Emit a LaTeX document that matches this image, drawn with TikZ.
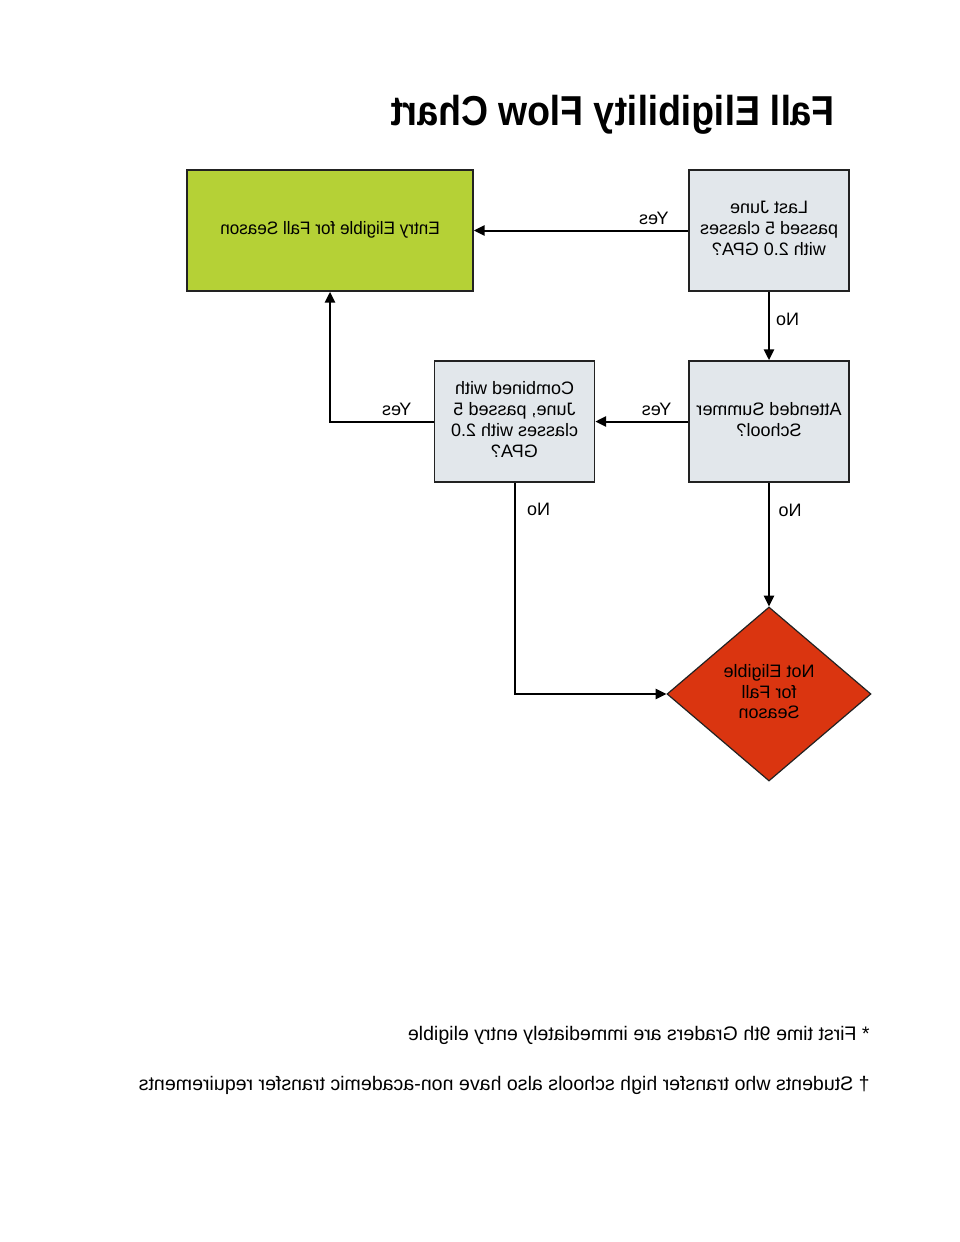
\documentclass[tikz,border=0pt]{standalone}
\usepackage{fontspec}
\setmainfont{Liberation Sans}
\usepackage{graphicx}
\usetikzlibrary{arrows.meta,shapes.geometric}
\newcommand\mirtxt[1]{\reflectbox{\begin{tabular}{@{}c@{}}#1\end{tabular}}}
\newcommand\mirscaled[3]{\scalebox{-#1}[#2]{\begin{tabular}{@{}c@{}}#3\end{tabular}}}
\definecolor{qgray}{HTML}{E2E7EB}
\definecolor{egreen}{HTML}{B5D136}
\definecolor{nred}{HTML}{DA3510}
\definecolor{edge}{HTML}{222222}
\begin{document}
\begin{tikzpicture}[x=0.75pt,y=-0.75pt,
  box/.style={draw=edge, line width=1.3pt, rectangle, inner sep=0pt,
    font=\fontsize{13.5}{15.75}\selectfont},
  ques/.style={box, fill=qgray, minimum width=120pt, minimum height=90.75pt},
  arr/.style={line width=1.5pt, -{Triangle[length=8pt,width=7.5pt]}},
  lab/.style={font=\fontsize{13.5}{16}\selectfont, inner sep=0pt},
  foot/.style={font=\fontsize{14.7}{17}\selectfont, inner sep=0pt, anchor=east}]
\useasboundingbox (0,0) rectangle (960,1242);
\node[font=\bfseries\fontsize{28}{32}\selectfont, inner sep=0pt, anchor=east] (title) at (835,116) {\mirscaled{1}{1.12}{Fall Eligibility Flow Chart}};
\node[box, fill=egreen, minimum width=214.5pt, minimum height=90.75pt] (green) at (330,230.5) {\mirscaled{0.95}{1}{Entry Eligible for Fall Season}};
\node[ques] (q1) at (769,230.5) {\mirtxt{Last June\\passed 5 classes\\with 2.0 GPA?}};
\node[ques] (q2) at (769,421.5) {\mirtxt{Attended Summer\\School?}};
\node[ques] (q3) at (514.5,421.5) {\mirtxt{Combined with\\June, passed 5\\classes with 2.0\\GPA?}};
\node[diamond, draw=edge, line width=0.9pt, fill=nred, inner sep=0pt, minimum width=153pt, minimum height=130.5pt, font=\fontsize{13.5}{15.4}\selectfont] (dia) at (769,694) {\mirtxt{Not Eligible\\for Fall\\Season}};
\draw[arr] (q1.west) -- (green.east) node[lab, pos=0.16, yshift=8pt] {\mirtxt{Yes}};
\draw[arr] (q1.south) -- (q2.north) node[lab, pos=0.43, xshift=14pt] {\mirtxt{No}};
\draw[arr] (q2.west) -- (q3.east) node[lab, pos=0.34, yshift=8pt] {\mirtxt{Yes}};
\draw[arr] (q3.west) -| (green.south) node[lab, pos=0.178, yshift=8pt] {\mirtxt{Yes}};
\draw[arr] (q2.south) -- (dia.north) node[lab, pos=0.24, xshift=15.75pt] {\mirtxt{No}};
\draw[arr] (q3.south) |- (dia.west) node[lab, pos=0.066, xshift=18pt] {\mirtxt{No}};
\node[foot] (f1) at (870,1036) {\mirtxt{* First time 9th Graders are immediately entry eligible}};
\node[foot] (f2) at (870,1086) {\mirtxt{\textdagger{} Students who transfer high schools also have non-academic transfer requirements}};
\end{tikzpicture}
\end{document}
